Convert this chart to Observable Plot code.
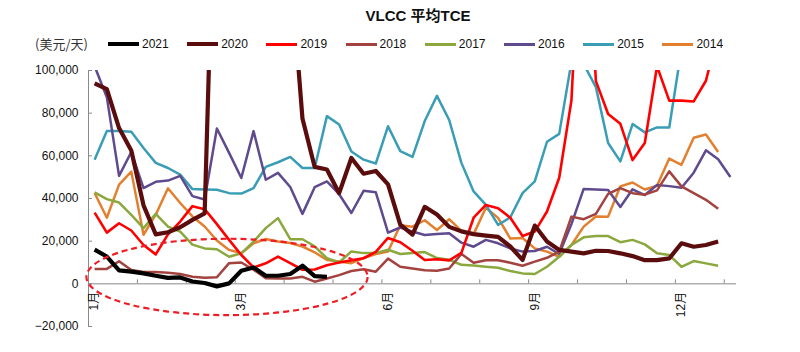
<!DOCTYPE html>
<html>
<head>
<meta charset="utf-8">
<script src="https://cdn.jsdelivr.net/npm/d3@7"></script>
<script src="https://cdn.jsdelivr.net/npm/@observablehq/plot@0.6"></script>
<style>
  body { margin: 0; background: #fff; }
  #wrap { position: relative; width: 800px; height: 352px; font-family: "Liberation Sans", Arial, "Noto Sans CJK SC", sans-serif; color: #111; }
  #title { position: absolute; top: 4px; left: 18px; width: 800px; text-align: center; font-weight: bold; font-size: 15px; }
  #unit { position: absolute; top: 34px; left: 35px; font-size: 13px; font-family: "Noto Sans CJK SC", sans-serif; color: #333; }
  .lg { position: absolute; top: 36px; height: 16px; display: flex; align-items: center; font-size: 12px; }
  .lg span.sw { display: inline-block; width: 31px; margin-right: 3px; }
  #chart { position: absolute; top: 55px; left: 0; }
</style>
</head>
<body>
<div id="wrap">
  <div id="title">VLCC 平均TCE</div>
  <div id="unit">(美元/天)</div>
  <div id="legend"></div>
  <div id="chart"></div>
</div>
<script>
// Years (series order as in legend)
const years = ["2021", "2020", "2019", "2018", "2017", "2016", "2015", "2014"];
const colors = ["#000000", "#5b0c0c", "#ff0000", "#a3433f", "#8aa83e", "#5f4a8e", "#3a9db6", "#e3802f"];
const widths = [4.2, 4.2, 2.6, 2.5, 2.5, 2.5, 2.5, 2.5];

// Weekly average TCE (USD/day), week 1 onward
const s2021 = [16000, 12800, 6300, 5700, 4900, 3800, 2800, 3000, 1100, 400, -1200, 200, 6100, 7700, 3800, 3800, 4600, 8500, 3600, 3300];
const s2020 = [94000, 91300, 73000, 62500, 36800, 23200, 24200, 26500, 30000, 33000, 230000, 200000, 180000, 170000, 190000, 170000, 150000, 77500, 54800, 53600, 42500, 59000, 51600, 52900, 46600, 27800, 23100, 36100, 32500, 26700, 24600, 23300, 22600, 22000, 17500, 11200, 27300, 19800, 15900, 15100, 14300, 15500, 15400, 14300, 13000, 11100, 11100, 11900, 19000, 17400, 18200, 19800];
const s2019 = [33400, 24000, 28400, 25000, 18200, 13800, 23200, 29200, 36400, 35000, 28000, 20600, 13500, 7700, 9600, 12800, 9700, 6600, 6700, 8700, 10000, 11000, 12000, 15000, 21500, 19500, 15500, 11200, 11500, 11000, 14500, 31000, 37000, 35400, 31000, 22400, 24500, 33900, 49700, 86000, 200000, 95000, 79600, 75000, 58000, 66000, 102000, 85900, 85900, 85500, 95200, 118000];
const s2018 = [7000, 7000, 10600, 6500, 5500, 5600, 5200, 4600, 3300, 2900, 3100, 9700, 10000, 6600, 2600, 2500, 2500, 3300, 1000, 2500, 4100, 6000, 6800, 5700, 11800, 8000, 7200, 6400, 6100, 7200, 14000, 9900, 11100, 11100, 9900, 8500, 10400, 12200, 15100, 31500, 30300, 32800, 42200, 44900, 42500, 41800, 43800, 52700, 45700, 42500, 39400, 35200];
const s2017 = [42900, 39700, 38100, 32300, 26100, 32800, 26800, 24500, 18400, 16600, 16200, 12700, 14300, 19800, 26100, 30800, 20900, 20900, 17600, 12000, 10000, 15200, 14400, 14400, 16000, 14000, 14400, 14900, 12100, 11300, 8900, 8600, 8000, 7500, 6000, 4900, 4600, 8000, 12700, 18200, 21800, 22400, 22400, 19500, 20600, 18500, 14300, 13500, 8000, 10700, 9600, 8500];
const s2016 = [102000, 87500, 50600, 61800, 44900, 47800, 48400, 50600, 41100, 39500, 72800, 61400, 49600, 71600, 48800, 52000, 45400, 32800, 45300, 48000, 42000, 33200, 43600, 42900, 24000, 26400, 24500, 22900, 23400, 23700, 19300, 17400, 20600, 19000, 16600, 15100, 15400, 17400, 14000, 28000, 44500, 44200, 44000, 36000, 44300, 41600, 46300, 45800, 45000, 52100, 62600, 58400, 50100];
const s2015 = [58200, 71600, 71600, 71300, 63700, 56700, 54300, 51200, 44400, 44200, 44100, 42500, 42300, 44900, 54800, 57000, 59500, 54300, 54300, 78600, 74700, 62000, 58200, 56400, 73900, 62200, 59500, 76300, 88100, 76800, 56700, 43300, 37000, 27600, 31200, 42500, 48000, 66600, 70300, 104000, 103000, 92200, 66000, 57400, 74900, 71000, 73300, 73300, 110000];
const s2014 = [42600, 31000, 46500, 52600, 23000, 32400, 44800, 37900, 31600, 26900, 20300, 15900, 14300, 19000, 21000, 19800, 19100, 17500, 14800, 11200, 10500, 9700, 12100, 14000, 15200, 27500, 26800, 29800, 25200, 30300, 24800, 23300, 35700, 30900, 21200, 21500, 16600, 15100, 12700, 18200, 26800, 31600, 31500, 45700, 47500, 44200, 46000, 58700, 55800, 68500, 70000, 61800];
const seriesValues = [s2021, s2020, s2019, s2018, s2017, s2016, s2015, s2014];

// Axis labels
const yTicks = [-20000, 0, 20000, 40000, 60000, 80000, 100000];
const monthLabels = ["1月", "3月", "6月", "9月", "12月"];
const monthWeeks = [1, 13, 25, 37, 49];
const tickWeeks = [0.5, 4.5, 8.5, 12.5, 16.5, 20.5, 24.5, 28.5, 32.5, 36.5, 40.5, 44.5, 48.5, 52.5];
const weekCount = 53;

// Highlight ellipse annotation (in data units: week, USD/day)
const highlight = { week: 11.87, value: 3000, halfWeeks: 11.5, halfValue: 17900 };

// Build table
const rows = [];
years.forEach((yr, k) => seriesValues[k].forEach((v, i) => rows.push({ year: yr, week: i + 1, value: v })));
const labelRows = monthLabels.map((t, i) => ({ label: t, week: monthWeeks[i] }));

// Legend
const legend = document.getElementById("legend");
years.forEach((yr, k) => {
  const d = document.createElement("div");
  d.className = "lg";
  d.style.left = (108 + k * 79.2) + "px";
  d.innerHTML = `<span class="sw" style="height:${widths[k] >= 4 ? 4 : 3}px;background:${colors[k]}"></span><span>${yr}</span>`;
  legend.appendChild(d);
});

const axisColor = "#8a8a8a";
const lineMarks = years.map((yr, k) => k).reverse().map(k =>
  Plot.line(rows.filter(r => r.year === years[k]), {
    x: "week", y: "value", stroke: colors[k], strokeWidth: widths[k],
    strokeLinejoin: "round", strokeLinecap: "butt", clip: true
  })
);

const ellipseMark = (index, scales) => {
  const e = document.createElementNS("http://www.w3.org/2000/svg", "ellipse");
  const cx = scales.x(highlight.week), cy = scales.y(highlight.value);
  e.setAttribute("cx", cx);
  e.setAttribute("cy", cy);
  e.setAttribute("rx", scales.x(highlight.week + highlight.halfWeeks) - cx);
  e.setAttribute("ry", scales.y(highlight.value - highlight.halfValue) - cy);
  e.setAttribute("fill", "none");
  e.setAttribute("stroke", "#ee1c24");
  e.setAttribute("stroke-width", 2.2);
  e.setAttribute("stroke-dasharray", "6,4");
  return e;
};

const chart = Plot.plot({
  width: 800,
  height: 297,
  marginLeft: 88,
  marginRight: 64,
  marginTop: 15,
  marginBottom: 26,
  style: { fontFamily: "'Liberation Sans', Arial, 'Noto Sans CJK SC', sans-serif", fontSize: "12px", color: "#111", background: "#fff" },
  x: { domain: [0.5, weekCount + 0.5], axis: null },
  y: { domain: [-20000, 100000], axis: null },
  marks: [
    Plot.ruleX([0.5], { stroke: axisColor }),
    Plot.ruleY(yTicks, { y: d => d, x1: 0.5, x2: 0.5, insetRight: -4, stroke: axisColor }),
    Plot.axisY({ ticks: yTicks, tickFormat: d3.format(","), tickSize: 0, tickPadding: 10, fontSize: 12, label: null }),
    Plot.ruleY([0], { stroke: axisColor }),
    Plot.ruleX(tickWeeks, { x: d => d, y1: 0, y2: 0, insetTop: -4, stroke: axisColor }),
    Plot.text(labelRows, { x: "week", y: 0, text: "label", rotate: -90, textAnchor: "end", dy: 8, fontSize: 12 }),
    ...lineMarks,
    ellipseMark
  ]
});
document.getElementById("chart").appendChild(chart);
</script>
</body>
</html>
